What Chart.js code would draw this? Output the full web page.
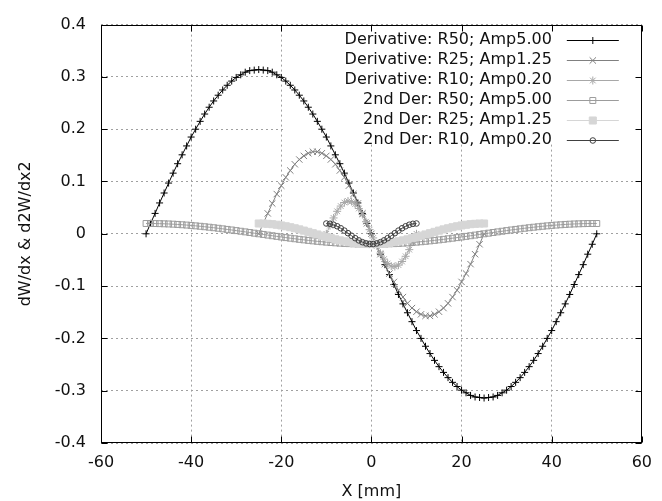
<!DOCTYPE html>
<html><head><meta charset="utf-8">
<script src="https://cdn.jsdelivr.net/npm/chart.js@4/dist/chart.umd.min.js"></script>
<style>html,body{margin:0;padding:0;background:#fff;}#wrap{width:662px;height:501px;}</style>
</head><body><div id="wrap"><canvas id="c" width="662" height="501"></canvas></div>
<script>
// ---- data ----
const seriesNames = ['Derivative: R50; Amp5.00','Derivative: R25; Amp1.25','Derivative: R10; Amp0.20','2nd Der: R50; Amp5.00','2nd Der: R25; Amp1.25','2nd Der: R10, Amp0.20'];
const xTicks = [-60,-40,-20,0,20,40,60];
const yTicks = [-0.4,-0.3,-0.2,-0.1,0,0.1,0.2,0.3,0.4];
const xR50 = [-50,-49,-48,-47,-46,-45,-44,-43,-42,-41,-40,-39,-38,-37,-36,-35,-34,-33,-32,-31,-30,-29,-28,-27,-26,-25,-24,-23,-22,-21,-20,-19,-18,-17,-16,-15,-14,-13,-12,-11,-10,-9,-8,-7,-6,-5,-4,-3,-2,-1,0,1,2,3,4,5,6,7,8,9,10,11,12,13,14,15,16,17,18,19,20,21,22,23,24,25,26,27,28,29,30,31,32,33,34,35,36,37,38,39,40,41,42,43,44,45,46,47,48,49,50];
const xR25 = [-25,-24,-23,-22,-21,-20,-19,-18,-17,-16,-15,-14,-13,-12,-11,-10,-9,-8,-7,-6,-5,-4,-3,-2,-1,0,1,2,3,4,5,6,7,8,9,10,11,12,13,14,15,16,17,18,19,20,21,22,23,24,25];
const xR10 = [-10,-9.2,-8.4,-7.6,-6.8,-6,-5.2,-4.4,-3.6,-2.8,-2,-1.2,-0.4,0.4,1.2,2,2.8,3.6,4.4,5.2,6,6.8,7.6,8.4,9.2,10];
const derR50 = [0,0.020,0.039,0.059,0.078,0.097,0.116,0.134,0.151,0.168,0.185,0.200,0.215,0.229,0.242,0.254,0.265,0.275,0.284,0.292,0.299,0.304,0.309,0.312,0.313,0.314,
0.313,0.312,0.309,0.304,0.299,0.292,0.284,0.275,0.265,0.254,0.242,0.229,0.215,0.200,0.185,0.168,0.151,0.134,0.116,0.097,0.078,0.059,0.039,0.020,0,
-0.020,-0.039,-0.059,-0.078,-0.097,-0.116,-0.134,-0.151,-0.168,-0.185,-0.200,-0.215,-0.229,-0.242,-0.254,-0.265,-0.275,-0.284,-0.292,-0.299,-0.304,-0.309,-0.312,-0.313,-0.314,
-0.313,-0.312,-0.309,-0.304,-0.299,-0.292,-0.284,-0.275,-0.265,-0.254,-0.242,-0.229,-0.215,-0.200,-0.185,-0.168,-0.151,-0.134,-0.116,-0.097,-0.078,-0.059,-0.039,-0.020,0];
const derR25 = [0,0.020,0.039,0.058,0.076,0.092,0.108,0.121,0.133,0.142,0.149,0.154,0.157,0.157,0.154,0.149,0.142,0.133,0.121,0.108,0.092,0.076,0.058,0.039,0.020,0,
-0.020,-0.039,-0.058,-0.076,-0.092,-0.108,-0.121,-0.133,-0.142,-0.149,-0.154,-0.157,-0.157,-0.154,-0.149,-0.142,-0.133,-0.121,-0.108,-0.092,-0.076,-0.058,-0.039,-0.020,0];
const derR10 = [0,0.0156,0.0303,0.0430,0.0530,0.0598,0.0627,0.0617,0.0568,0.0484,0.0369,0.0231,0.0079,-0.0079,-0.0231,-0.0369,-0.0484,-0.0568,-0.0617,-0.0627,-0.0598,-0.0530,-0.0430,-0.0303,-0.0156,0];
const der2R50 = [0.0197,0.0197,0.0196,0.0194,0.0191,0.0188,0.0184,0.0179,0.0173,0.0167,0.0160,0.0152,0.0144,0.0135,0.0126,0.0116,0.0106,0.0095,0.0084,0.0073,0.0061,0.0049,0.0037,0.0025,0.0012,0,
-0.0012,-0.0025,-0.0037,-0.0049,-0.0061,-0.0073,-0.0084,-0.0095,-0.0106,-0.0116,-0.0126,-0.0135,-0.0144,-0.0152,-0.0160,-0.0167,-0.0173,-0.0179,-0.0184,-0.0188,-0.0191,-0.0194,-0.0196,-0.0197,-0.0197,
-0.0197,-0.0196,-0.0194,-0.0191,-0.0188,-0.0184,-0.0179,-0.0173,-0.0167,-0.0160,-0.0152,-0.0144,-0.0135,-0.0126,-0.0116,-0.0106,-0.0095,-0.0084,-0.0073,-0.0061,-0.0049,-0.0037,-0.0025,-0.0012,0,
0.0012,0.0025,0.0037,0.0049,0.0061,0.0073,0.0084,0.0095,0.0106,0.0116,0.0126,0.0135,0.0144,0.0152,0.0160,0.0167,0.0173,0.0179,0.0184,0.0188,0.0191,0.0194,0.0196,0.0197,0.0197];
const der2R25 = [0.0197,0.0196,0.0191,0.0184,0.0173,0.0160,0.0144,0.0126,0.0106,0.0084,0.0061,0.0037,0.0012,-0.0012,-0.0037,-0.0061,-0.0084,-0.0106,-0.0126,-0.0144,-0.0160,-0.0173,-0.0184,-0.0191,-0.0196,-0.0197,
-0.0196,-0.0191,-0.0184,-0.0173,-0.0160,-0.0144,-0.0126,-0.0106,-0.0084,-0.0061,-0.0037,-0.0012,0.0012,0.0037,0.0061,0.0084,0.0106,0.0126,0.0144,0.0160,0.0173,0.0184,0.0191,0.0196,0.0197];
const der2R10 = [0.0197,0.0191,0.0173,0.0144,0.0106,0.0061,0.0012,-0.0037,-0.0084,-0.0126,-0.0160,-0.0184,-0.0196,-0.0196,-0.0184,-0.0160,-0.0126,-0.0084,-0.0037,0.0012,0.0061,0.0106,0.0144,0.0173,0.0191,0.0197];

// ---- styles ----
const FONT = '"DejaVu Sans", sans-serif';
const FS = 16;
const styles = [
  {c:'#000000', ps:'cross',    r:3.5, fill:false},
  {c:'#808080', ps:'crossRot', r:4.5, fill:false},
  {c:'#a8a8a8', ps:'star',     r:4,   fill:false},
  {c:'#9c9c9c', ps:'rect',     r:4.2, fill:false},
  {c:'#d6d6d6', ps:'rect',     r:5,   fill:true},
  {c:'#404040', ps:'circle',   r:2.8, fill:false}
];
const seriesX = [xR50, xR25, xR10, xR50, xR25, xR10];
const seriesY = [derR50, derR25, derR10, der2R50, der2R25, der2R10];

const datasets = seriesY.map((ys, i) => {
  const s = styles[i];
  return {
    label: seriesNames[i],
    data: seriesX[i].map((x, j) => ({x: x, y: ys[j]})),
    showLine: true,
    borderColor: s.c,
    backgroundColor: s.fill ? s.c : 'rgba(0,0,0,0)',
    borderWidth: 1,
    pointStyle: s.ps,
    pointRadius: s.r,
    pointHoverRadius: s.r,
    pointBorderColor: s.c,
    pointBackgroundColor: s.fill ? s.c : 'rgba(0,0,0,0)',
    pointBorderWidth: 1,
    tension: 0,
    order: 5 - i
  };
});

function drawMark(ctx, s, x, y) {
  const r = s.r;
  ctx.save();
  ctx.strokeStyle = s.c; ctx.fillStyle = s.c; ctx.lineWidth = 1;
  ctx.beginPath();
  const d = r * Math.SQRT1_2;
  if (s.ps === 'cross' || s.ps === 'star') {
    ctx.moveTo(x - r, y); ctx.lineTo(x + r, y); ctx.moveTo(x, y - r); ctx.lineTo(x, y + r);
  }
  if (s.ps === 'crossRot' || s.ps === 'star') {
    ctx.moveTo(x - d, y - d); ctx.lineTo(x + d, y + d); ctx.moveTo(x - d, y + d); ctx.lineTo(x + d, y - d);
  }
  if (s.ps === 'rect') { ctx.rect(x - d, y - d, 2 * d, 2 * d); if (s.fill) ctx.fill(); }
  if (s.ps === 'circle') { ctx.arc(x, y, r, 0, Math.PI * 2); }
  ctx.stroke();
  ctx.restore();
}

const frame = {
  id: 'frame',
  beforeDatasetsDraw(chart) {
    const ctx = chart.ctx, a = chart.chartArea;
    ctx.save();
    ctx.fillStyle = '#ffffff';
    const kl = 283, kb = 141;
    ctx.fillRect(kl, a.top + 1, a.right - kl - 1, kb - a.top);
    ctx.restore();
  },
  afterDraw(chart) {
    const ctx = chart.ctx, a = chart.chartArea;
    const xs = chart.scales.x, ys = chart.scales.y;
    ctx.save();
    // border
    ctx.strokeStyle = '#000'; ctx.lineWidth = 1;
    const L = Math.round(a.left) + 0.5, R = Math.round(a.right) - 0.5, T = Math.round(a.top) + 0.5, B = Math.round(a.bottom) - 0.5;
    ctx.strokeRect(L, T, R - L, B - T);
    // inward tick marks
    const tl = 6;
    ctx.beginPath();
    xTicks.forEach(v => {
      const px = Math.round(xs.getPixelForValue(v)) + 0.5;
      ctx.moveTo(px, B); ctx.lineTo(px, B - tl);
      ctx.moveTo(px, T); ctx.lineTo(px, T + tl);
    });
    yTicks.forEach(v => {
      const py = Math.round(ys.getPixelForValue(v)) + 0.5;
      ctx.moveTo(L, py); ctx.lineTo(L + tl, py);
      ctx.moveTo(R, py); ctx.lineTo(R - tl, py);
    });
    ctx.stroke();
    // legend
    ctx.font = FS + 'px ' + FONT;
    ctx.fillStyle = '#111';
    ctx.textAlign = 'right'; ctx.textBaseline = 'middle';
    seriesNames.forEach((name, i) => {
      const y = a.top + 15 + 20 * i;
      ctx.fillText(name, a.right - 90, y);
      const s = styles[i];
      ctx.strokeStyle = s.c; ctx.lineWidth = 1;
      ctx.beginPath();
      ctx.moveTo(a.right - 75, Math.round(y) + 0.5); ctx.lineTo(a.right - 23, Math.round(y) + 0.5);
      ctx.stroke();
      drawMark(ctx, s, a.right - 49, Math.round(y) + 0.5);
    });
    // axis titles
    ctx.fillStyle = '#111';
    ctx.textAlign = 'center'; ctx.textBaseline = 'middle';
    ctx.fillText('X [mm]', (a.left + a.right) / 2, 492);
    ctx.translate(26, (a.top + a.bottom) / 2);
    ctx.rotate(-Math.PI / 2);
    ctx.fillText('dW/dx & d2W/dx2', 0, 0);
    ctx.restore();
  }
};

new Chart(document.getElementById('c'), {
  type: 'scatter',
  data: { datasets: datasets },
  plugins: [frame],
  options: {
    responsive: false,
    animation: false,
    devicePixelRatio: 1,
    layout: { padding: { top: 16, right: 12, left: 0, bottom: 0 } },
    plugins: { legend: { display: false }, tooltip: { enabled: false } },
    scales: {
      x: {
        type: 'linear', min: -60, max: 60,
        afterFit: s => { s.height = 58; },
        afterBuildTicks: s => { s.ticks = xTicks.map(v => ({value: v})); },
        ticks: { font: { family: FONT, size: FS }, color: '#111', padding: 10, maxRotation: 0,
                 callback: v => String(v) },
        grid: { color: '#a0a0a0', lineWidth: 1, drawTicks: false },
        border: { display: false, dash: [2, 3] }
      },
      y: {
        type: 'linear', min: -0.4, max: 0.4,
        afterFit: s => { s.width = 101; },
        afterBuildTicks: s => { s.ticks = yTicks.map(v => ({value: v})); },
        ticks: { font: { family: FONT, size: FS }, color: '#111', padding: 15,
                 callback: v => { const r = Math.round(v * 10) / 10; return (r === 0 ? 0 : r).toString(); } },
        grid: { color: '#a0a0a0', lineWidth: 1, drawTicks: false },
        border: { display: false, dash: [2, 3] }
      }
    }
  }
});
</script>
</body></html>
